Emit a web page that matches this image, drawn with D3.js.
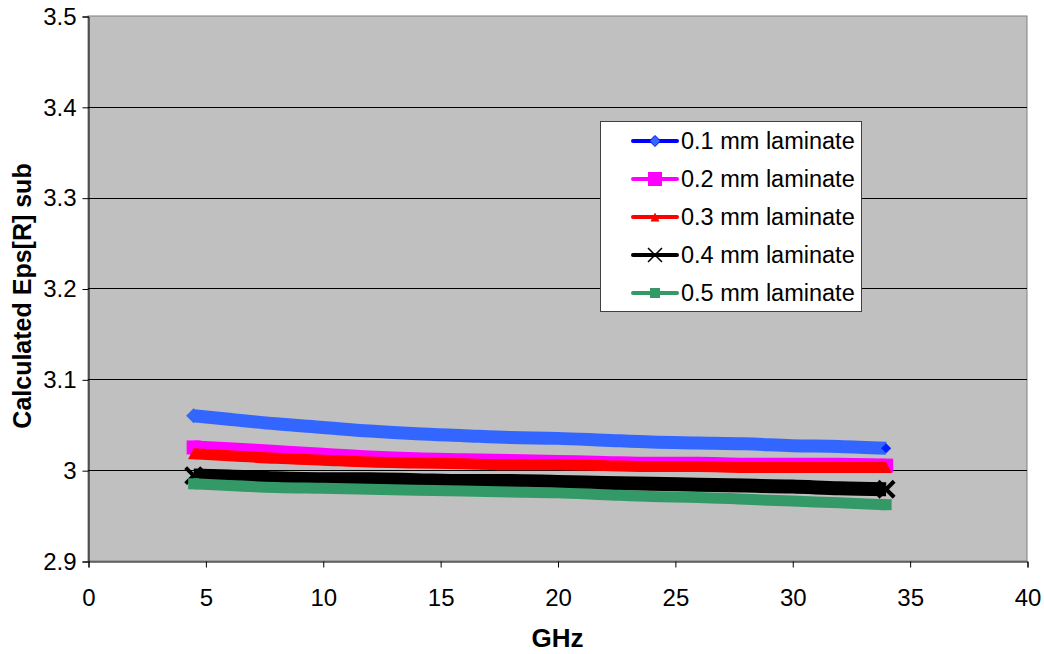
<!DOCTYPE html>
<html><head><meta charset="utf-8">
<script src="https://cdn.jsdelivr.net/npm/d3@7"></script>
<style>body{margin:0;background:#fff}svg{display:block}text{font-family:Arial,"Liberation Sans",sans-serif}</style>
</head><body><svg id="c" width="1044" height="654"></svg>
<script>
const ghz = [4.5, 6, 8, 10, 12, 14, 16, 18, 20, 22, 24, 26, 28, 30, 32, 34];
const lam01 = [3.060, 3.056, 3.051, 3.047, 3.043, 3.040, 3.038, 3.036, 3.035, 3.033, 3.031, 3.030, 3.029, 3.027, 3.026, 3.024];
const lam02 = [3.025, 3.023, 3.020, 3.017, 3.014, 3.012, 3.011, 3.010, 3.009, 3.008, 3.007, 3.007, 3.006, 3.006, 3.006, 3.005];
const lam03 = [3.018, 3.016, 3.013, 3.011, 3.009, 3.008, 3.007, 3.006, 3.006, 3.005, 3.004, 3.004, 3.003, 3.003, 3.003, 3.003];
const lam04 = [2.994, 2.993, 2.991, 2.990, 2.990, 2.989, 2.988, 2.988, 2.987, 2.986, 2.985, 2.984, 2.983, 2.982, 2.980, 2.979];
const lam05 = [2.985, 2.983, 2.981, 2.980, 2.979, 2.978, 2.977, 2.976, 2.975, 2.973, 2.971, 2.970, 2.968, 2.966, 2.964, 2.962];
const seriesNames = ["0.1 mm laminate", "0.2 mm laminate", "0.3 mm laminate", "0.4 mm laminate", "0.5 mm laminate"];
const xTicks = [0, 5, 10, 15, 20, 25, 30, 35, 40];
const yTicks = [2.9, 3.0, 3.1, 3.2, 3.3, 3.4, 3.5];
const xTitle = "GHz";
const yTitle = "Calculated Eps[R] sub";

const styles = [
  {band:"#3366ff", line:"#0000ff", w:13, marker:"diamond", mfill:"#3366ff", mstroke:"#0000ff"},
  {band:"#ff00ff", line:"#ff00ff", w:14, marker:"square", mfill:"#ff00ff", mstroke:"#ff00ff"},
  {band:"#ff0000", line:"#ff0000", w:11, marker:"triangle", mfill:"#ff0000", mstroke:"#ff0000"},
  {band:"#000000", line:"#000000", w:14, marker:"x", mfill:"none", mstroke:"#000000"},
  {band:"#339966", line:"#339966", w:11, marker:"square", mfill:"#339966", mstroke:"#339966"}
];
const allSeries = [lam01, lam02, lam03, lam04, lam05];

const svg = d3.select("#c");
const L = 88, R = 1027, T = 16, B = 561;
const x = d3.scaleLinear().domain([0, 40]).range([L, R]);
const y = d3.scaleLinear().domain([2.9, 3.5]).range([B, T]);

svg.append("rect").attr("x", L).attr("y", T).attr("width", R - L).attr("height", B - T)
  .attr("fill", "#c0c0c0").attr("stroke", "#808080").attr("stroke-width", 1);

svg.append("g").selectAll("line").data(yTicks.slice(1, -1)).join("line")
  .attr("x1", L).attr("x2", R).attr("y1", d => Math.round(y(d)) + 0.5).attr("y2", d => Math.round(y(d)) + 0.5)
  .attr("stroke", "#000").attr("stroke-width", 1);

const yAxis = d3.axisLeft(y).tickValues(yTicks).tickFormat(d => d3.format("")(+d.toFixed(1))).tickSize(6).tickPadding(6);
const gy = svg.append("g").attr("transform", `translate(${L + 0.5},0.5)`).call(yAxis);
gy.select(".domain").attr("stroke", "#000");
gy.selectAll("text").attr("font-size", 24).attr("fill", "#000");

const xAxis = d3.axisBottom(x).tickValues(xTicks).tickSize(6).tickPadding(21);
const gx = svg.append("g").attr("transform", `translate(0.5,${B + 0.5})`).call(xAxis);
gx.select(".domain").attr("stroke", "#000");
gx.selectAll("text").attr("font-size", 24).attr("fill", "#000");

const lineGen = d3.line().x(d => x(d[0])).y(d => y(d[1])).curve(d3.curveMonotoneX);
function markerPath(type, s) {
  const h = s / 2;
  if (type === "diamond") return `M${-h},0L0,${-h}L${h},0L0,${h}Z`;
  if (type === "square") return `M${-h},${-h}H${h}V${h}H${-h}Z`;
  if (type === "triangle") return `M${-h},${h}L0,${-h}L${h},${h}Z`;
  if (type === "x") return `M${-h},${-h}L${h},${h}M${-h},${h}L${h},${-h}`;
  return "";
}
allSeries.forEach((vals, i) => {
  const st = styles[i];
  const pts = ghz.map((g, j) => [g, vals[j]]);
  svg.append("path").datum(pts).attr("d", lineGen).attr("fill", "none")
    .attr("stroke", st.band).attr("stroke-width", st.w);
  const ends = [pts[0], pts[pts.length - 1]];
  const g = svg.append("g");
  if (st.marker === "x") {
    g.selectAll("path").data(ends).join("path")
      .attr("transform", d => `translate(${x(d[0])},${y(d[1])})`)
      .attr("d", markerPath("x", st.w + 2)).attr("stroke", "#000").attr("stroke-width", 4).attr("fill", "none");
  } else {
    g.selectAll("path").data(ends).join("path")
      .attr("transform", d => `translate(${x(d[0])},${y(d[1])})`)
      .attr("d", (d, k) => markerPath(st.marker, st.marker === "diamond" ? (k === 0 ? st.w + 2 : 10) : st.w))
      .attr("fill", (d, k) => (st.marker === "diamond" && k === 1) ? "#0022ff" : st.band);
  }
});

svg.append("text").attr("x", (L + R) / 2).attr("y", 647).attr("text-anchor", "middle")
  .attr("font-size", 26).attr("font-weight", "bold").text(xTitle);
svg.append("text").attr("transform", "translate(31,296) rotate(-90)").attr("text-anchor", "middle")
  .attr("font-size", 25).attr("font-weight", "bold").text(yTitle);

const lg = svg.append("g");
lg.append("rect").attr("x", 600.5).attr("y", 121.5).attr("width", 261).attr("height", 190)
  .attr("fill", "#fff").attr("stroke", "#404040").attr("stroke-width", 1);
const rowY = [141, 179, 217, 255, 293];
seriesNames.forEach((name, i) => {
  const st = styles[i];
  const ry = rowY[i];
  lg.append("line").attr("x1", 633).attr("x2", 677).attr("y1", ry).attr("y2", ry)
    .attr("stroke", st.line).attr("stroke-width", 4).attr("stroke-linecap", "round");
  const m = lg.append("path").attr("transform", `translate(655,${ry})`);
  if (st.marker === "x") m.attr("d", markerPath("x", 14)).attr("stroke", "#000").attr("stroke-width", 1.5).attr("fill", "none");
  else if (st.marker === "diamond") m.attr("d", markerPath("diamond", 11)).attr("fill", "#3366ff").attr("stroke", "#0000ff").attr("stroke-width", 1);
  else if (st.marker === "triangle") m.attr("d", markerPath("triangle", 9)).attr("fill", st.mfill);
  else m.attr("d", markerPath("square", i === 1 ? 14 : 10)).attr("fill", st.mfill);
  lg.append("text").attr("x", 681).attr("y", ry).attr("dy", "0.35em").attr("font-size", 23.5).text(name);
});
</script></body></html>
